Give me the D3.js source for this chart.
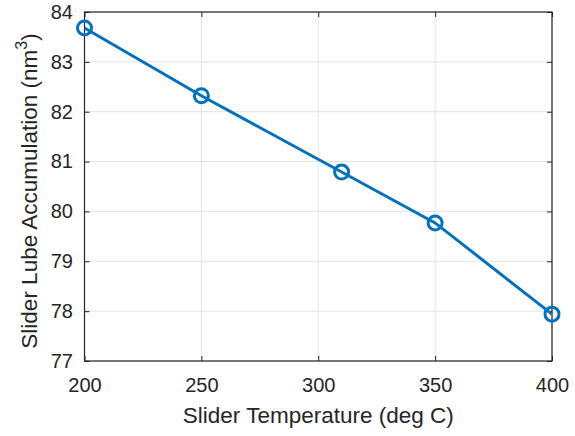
<!DOCTYPE html>
<html><head><meta charset="utf-8">
<script src="https://cdn.jsdelivr.net/npm/d3@7"></script>
<style>body{margin:0;background:#fff}text{font-family:"Liberation Sans",Arial,sans-serif;fill:#262626}</style>
</head><body>
<svg id="c" width="575" height="436"></svg>
<script>
const temps = [200, 250, 310, 350, 400];
const accum = [83.68, 82.32, 80.79, 79.77, 77.94];
const xTicks = [200, 250, 300, 350, 400];
const yTicks = [77, 78, 79, 80, 81, 82, 83, 84];
const xLabel = "Slider Temperature (deg C)";

const svg = d3.select("#c");
const L = 84.5, R = 552, T = 12, B = 361;
const x = d3.scaleLinear().domain([200, 400]).range([L, R]);
const y = d3.scaleLinear().domain([77, 84]).range([B, T]);

const g = svg.append("g");
// grid
g.selectAll(".gx").data(xTicks).join("line")
  .attr("x1", d => x(d)).attr("x2", d => x(d)).attr("y1", T).attr("y2", B)
  .attr("stroke", "#e3e3e3").attr("stroke-width", 1);
g.selectAll(".gy").data(yTicks).join("line")
  .attr("y1", d => y(d)).attr("y2", d => y(d)).attr("x1", L).attr("x2", R)
  .attr("stroke", "#e3e3e3").attr("stroke-width", 1);

// axes
const fmt = d3.format("d");
const ax = (gen, tr) => svg.append("g").attr("transform", tr).call(gen)
  .call(s => s.select(".domain").remove())
  .call(s => s.selectAll(".tick line").attr("stroke", "#262626"))
  .call(s => s.selectAll(".tick text").style("font-size", "20px").attr("fill", "#262626"));
ax(d3.axisBottom(x).tickValues(xTicks).tickFormat(fmt).tickSize(-5).tickPadding(16.5), `translate(0,${B})`);
ax(d3.axisTop(x).tickValues(xTicks).tickFormat("").tickSize(-5), `translate(0,${T})`);
ax(d3.axisLeft(y).tickValues(yTicks).tickFormat(fmt).tickSize(-5).tickPadding(11.5), `translate(${L},0)`);
ax(d3.axisRight(y).tickValues(yTicks).tickFormat("").tickSize(-5), `translate(${R},0)`);

svg.append("rect").attr("x", L).attr("y", T).attr("width", R - L).attr("height", B - T)
  .attr("fill", "none").attr("stroke", "#262626").attr("stroke-width", 1.2);

// data
const pts = temps.map((t, i) => [t, accum[i]]);
svg.append("path").datum(pts)
  .attr("d", d3.line().x(d => x(d[0])).y(d => y(d[1])))
  .attr("fill", "none").attr("stroke", "#0072BD").attr("stroke-width", 3);
svg.selectAll(".m").data(pts).join("circle")
  .attr("cx", d => x(d[0])).attr("cy", d => y(d[1])).attr("r", 7)
  .attr("fill", "none").attr("stroke", "#0072BD").attr("stroke-width", 3);

// labels
svg.append("text").attr("x", (L + R) / 2).attr("y", 423).attr("text-anchor", "middle")
  .style("font-size", "22.5px").text(xLabel);
const yl = svg.append("text").attr("transform", `translate(37,191) rotate(-90)`)
  .attr("text-anchor", "middle").style("font-size", "22.5px");
yl.append("tspan").text("Slider Lube Accumulation (nm");
yl.append("tspan").attr("dy", -10).style("font-size", "16px").text("3");
yl.append("tspan").attr("dy", 10).text(")");
</script>
</body></html>
